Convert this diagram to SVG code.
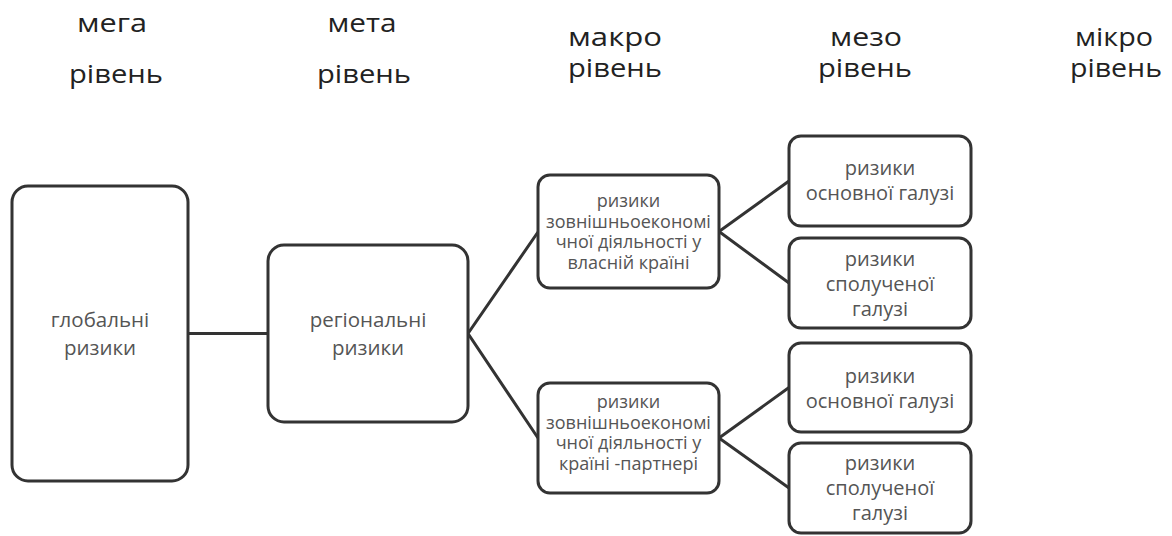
<svg xmlns="http://www.w3.org/2000/svg" width="1172" height="536" viewBox="0 0 1172 536">
<style>
.hdr{font-family:"Open Sans","Liberation Sans",sans-serif;font-size:25px;fill:#222;text-anchor:middle}
.box{fill:#fff;stroke:#333;stroke-width:3}
.t{font-family:"Open Sans","Liberation Sans",sans-serif;fill:#555;text-anchor:middle}
.big{font-size:20.5px}
.mac{font-size:18px}
.mes{font-size:20px}
.con{stroke:#333;stroke-width:3;fill:none}
</style>
<rect width="1172" height="536" fill="#fff"/>
<g id="headers">
<text class="hdr" x="112" y="32" textLength="70" lengthAdjust="spacingAndGlyphs">мега</text>
<text class="hdr" x="116" y="83" textLength="94" lengthAdjust="spacingAndGlyphs">рівень</text>
<text class="hdr" x="362" y="32" textLength="69" lengthAdjust="spacingAndGlyphs">мета</text>
<text class="hdr" x="364" y="83" textLength="94" lengthAdjust="spacingAndGlyphs">рівень</text>
<text class="hdr" x="615" y="46" textLength="94" lengthAdjust="spacingAndGlyphs">макро</text>
<text class="hdr" x="615" y="77" textLength="94" lengthAdjust="spacingAndGlyphs">рівень</text>
<text class="hdr" x="866" y="46" textLength="72" lengthAdjust="spacingAndGlyphs">мезо</text>
<text class="hdr" x="865" y="77" textLength="94" lengthAdjust="spacingAndGlyphs">рівень</text>
<text class="hdr" x="1114" y="46" textLength="78" lengthAdjust="spacingAndGlyphs">мікро</text>
<text class="hdr" x="1116" y="77" textLength="92" lengthAdjust="spacingAndGlyphs">рівень</text>
</g>
<g id="connectors">
<line class="con" x1="188" y1="333.5" x2="268" y2="333.5"/>
<polyline class="con" points="538,232 468,333.5 538,438"/>
<polyline class="con" points="789,181 719,231.5 789,283"/>
<polyline class="con" points="789,387.5 719,438 789,488"/>
</g>
<g id="global">
<rect class="box" x="12" y="186" width="176" height="295" rx="16"/>
<text class="t big" x="100" y="327">глобальні</text>
<text class="t big" x="100" y="355">ризики</text>
</g>
<g id="regional">
<rect class="box" x="268" y="245" width="200" height="177" rx="16"/>
<text class="t big" x="368" y="327">регіональні</text>
<text class="t big" x="368" y="355">ризики</text>
</g>
<g id="macro1">
<rect class="box" x="538" y="175" width="181" height="113" rx="12"/>
<text class="t mac" x="628.5" y="207">ризики</text>
<text class="t mac" x="628.5" y="227.5">зовнішньоекономі</text>
<text class="t mac" x="628.5" y="248">чної діяльності у</text>
<text class="t mac" x="628.5" y="268.5">власній країні</text>
</g>
<g id="macro2">
<rect class="box" x="538" y="383" width="181" height="110" rx="12"/>
<text class="t mac" x="628.5" y="408">ризики</text>
<text class="t mac" x="628.5" y="428.5">зовнішньоекономі</text>
<text class="t mac" x="628.5" y="449">чної діяльності у</text>
<text class="t mac" x="628.5" y="469.5">країні -партнері</text>
</g>
<g id="meso1">
<rect class="box" x="789" y="136" width="182" height="90" rx="12"/>
<text class="t mes" x="880" y="175">ризики</text>
<text class="t mes" x="880" y="200">основної галузі</text>
</g>
<g id="meso2">
<rect class="box" x="789" y="238" width="182" height="90" rx="12"/>
<text class="t mes" x="880" y="266">ризики</text>
<text class="t mes" x="880" y="291">сполученої</text>
<text class="t mes" x="880" y="316">галузі</text>
</g>
<g id="meso3">
<rect class="box" x="789" y="343" width="182" height="89" rx="12"/>
<text class="t mes" x="880" y="383">ризики</text>
<text class="t mes" x="880" y="408">основної галузі</text>
</g>
<g id="meso4">
<rect class="box" x="789" y="443" width="182" height="90" rx="12"/>
<text class="t mes" x="880" y="470">ризики</text>
<text class="t mes" x="880" y="495">сполученої</text>
<text class="t mes" x="880" y="520">галузі</text>
</g>
</svg>
